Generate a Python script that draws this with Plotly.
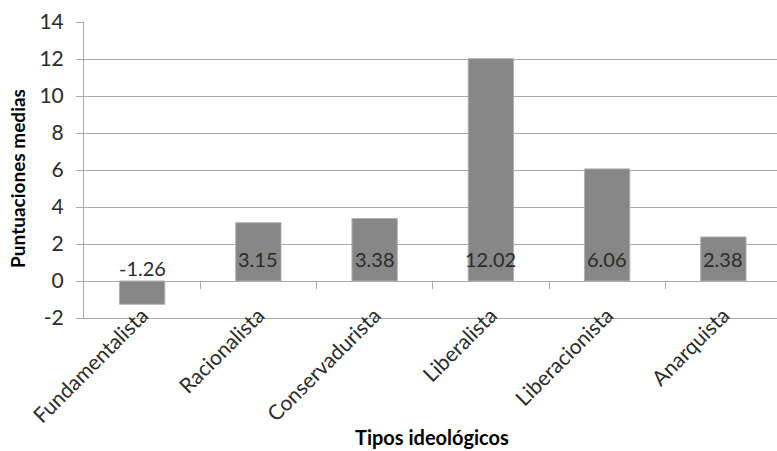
import plotly.graph_objects as go

# Mean scores per ideological type
categories = ["Fundamentalista", "Racionalista", "Conservadurista",
              "Liberalista", "Liberacionista", "Anarquista"]
scores = [-1.26, 3.15, 3.38, 12.02, 6.06, 2.38]
y_ticks = [-2, 0, 2, 4, 6, 8, 10, 12, 14]

W, H = 777, 451
L, T, B, R = 84, 22, 133, 0
plot_w = W - L - R
plot_h = H - T - B
cat_px = 116.25                      # width of one category slot
x_range = [-0.5, -0.5 + plot_w / cat_px]
y_range = [y_ticks[0], y_ticks[-1]]

FONT = "Lato"
GRID = "#aaaaaa"
TEXT = "#2b2b2b"

fig = go.Figure()
fig.add_trace(go.Bar(
    x=categories, y=scores, width=0.39,
    marker=dict(color="#878787", line=dict(color="#b0b0b0", width=1)),
    hoverinfo="x+y",
))
# carrier trace for the boundary-tick axis that sits on the zero line
fig.add_trace(go.Scatter(
    x=list(range(len(categories))), y=scores, xaxis="x2",
    mode="markers", marker=dict(size=0, opacity=0), hoverinfo="skip",
    showlegend=False,
))

# value labels at the base of each bar
for cat, v in zip(categories, scores):
    fig.add_annotation(
        x=cat, y=0, text=f"{v:.2f}", showarrow=False,
        yanchor="middle", yshift=22 if v > 0 else 13,
        font=dict(family=FONT, size=20, color=TEXT),
    )

zero_frac = (0 - y_range[0]) / (y_range[1] - y_range[0])

fig.update_layout(
    width=W, height=H,
    margin=dict(l=L, r=R, t=T, b=B, autoexpand=False),
    plot_bgcolor="white", paper_bgcolor="white",
    showlegend=False, bargap=0.6,
    font=dict(family=FONT, color=TEXT),
    xaxis=dict(
        type="category", range=x_range,
        showgrid=False, zeroline=False,
        showline=True, linecolor=GRID, linewidth=1,
        ticks="", tickangle=-45, ticklabelstandoff=-24,
        tickfont=dict(family=FONT, size=21, color=TEXT),
    ),
    xaxis2=dict(
        type="linear", overlaying="x", anchor="free", position=zero_frac,
        range=x_range, tickmode="array",
        tickvals=[i + 0.5 for i in range(len(categories) - 1)],
        ticks="outside", ticklen=7, tickcolor=GRID, tickwidth=1,
        showticklabels=False, showgrid=False, zeroline=False, showline=False,
    ),
    yaxis=dict(
        range=y_range, tickmode="array", tickvals=y_ticks,
        ticktext=[str(t) for t in y_ticks],
        ticks="outside", ticklen=7, tickcolor=GRID, ticklabelstandoff=8,
        showline=True, linecolor=GRID, linewidth=1,
        showgrid=True, gridcolor=GRID, gridwidth=1,
        zeroline=True, zerolinecolor=GRID, zerolinewidth=1,
        tickfont=dict(family=FONT, size=21, color=TEXT),
    ),
)

# axis titles
fig.add_annotation(
    xref="paper", yref="paper", x=(18 - L) / plot_w, y=0.47,
    text="<b>Puntuaciones medias</b>", textangle=-90, showarrow=False,
    xanchor="center", yanchor="middle",
    font=dict(family=FONT, size=19, color="black"),
)
fig.add_annotation(
    xref="paper", yref="paper", x=(432 - L) / plot_w,
    y=(T + plot_h - 437) / plot_h,
    text="<b>Tipos ideológicos</b>", showarrow=False,
    xanchor="center", yanchor="middle",
    font=dict(family=FONT, size=20, color="black"),
)

fig.write_html("out.html")
